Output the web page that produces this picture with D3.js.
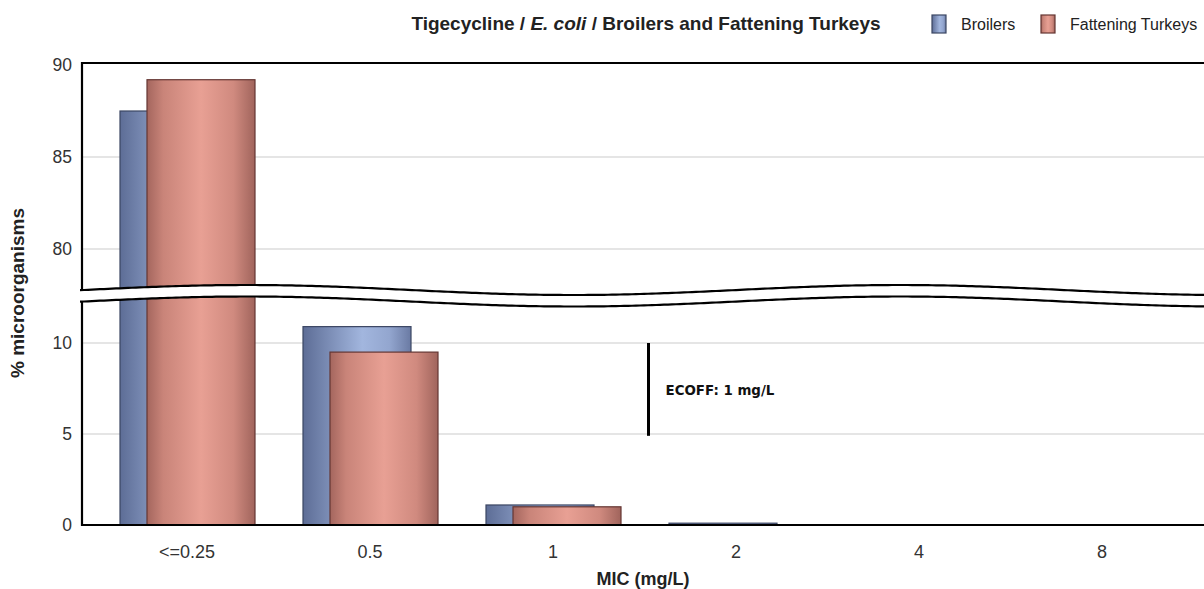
<!DOCTYPE html>
<html>
<head>
<meta charset="utf-8">
<script src="https://cdn.jsdelivr.net/npm/d3@7"></script>
<style>
  body { margin: 0; background: #fff; overflow: hidden; }
  svg { display: block; font-family: "Liberation Sans", Arial, sans-serif; }
</style>
</head>
<body>
<svg id="chart" width="1204" height="589"></svg>
<script>
// ── data ──
const categories = ["<=0.25", "0.5", "1", "2", "4", "8"];
const broilers = [87.5, 10.9, 1.1, 0.1, 0, 0];
const turkeys = [89.2, 9.5, 1.0, 0, 0, 0];
const upperTicks = [80, 85, 90];
const lowerTicks = [0, 5, 10];
const ecoffIndex = 2; // between "1" and "2"

const pLeft = 82, pRight = 1212, pTop = 63, pBase = 525;
const svg = d3.select("#chart");
const defs = svg.append("defs");

// scales
const x = d3.scaleBand().domain(categories).range([95.5, 95.5 + 183 * 6]);
const yUp = d3.scaleLinear().domain([76, 90]).range([65 + 14 * 18.4, 65]);
const yLo = d3.scaleLinear().domain([0, 13]).range([pBase, pBase - 13 * 18.2]);

// break wave (decoration)
const waveUp = (px) => 290 - 5 * Math.cos((2 * Math.PI * (px - 247)) / 653);
const waveLo = (px) => waveUp(px) + 11.5;
const xs = d3.range(pLeft - 2, pRight + 2, 4);

// clip paths for both panels
defs.append("clipPath").attr("id", "clipUp")
  .append("path")
  .attr("d", `M${pLeft},${pTop}L${pRight},${pTop}` +
    xs.slice().reverse().map((p) => `L${p},${waveUp(p)}`).join("") + "Z");
defs.append("clipPath").attr("id", "clipLo")
  .append("path")
  .attr("d", `M${pLeft},${pBase}L${pRight},${pBase}` +
    xs.slice().reverse().map((p) => `L${p},${waveLo(p)}`).join("") + "Z");

// bar gradients
function grad(id, stops) {
  const g = defs.append("linearGradient").attr("id", id)
    .attr("x1", "0%").attr("x2", "100%").attr("y1", "0%").attr("y2", "0%");
  stops.forEach(([o, c]) => g.append("stop").attr("offset", o).attr("stop-color", c));
}
grad("gBlue", [["0%", "#5d6d96"], ["55%", "#a2b6de"], ["80%", "#93a6cf"], ["100%", "#6a7aa3"]]);
grad("gRed", [["0%", "#a4665e"], ["15%", "#c98479"], ["50%", "#e8a094"], ["80%", "#d08a7f"], ["100%", "#a0645c"]]);

// gridlines
const grid = svg.append("g").attr("stroke", "#dcdcdc").attr("stroke-width", 1.5);
upperTicks.filter((t) => t < 90).forEach((t) =>
  grid.append("line").attr("x1", pLeft).attr("x2", pRight).attr("y1", yUp(t)).attr("y2", yUp(t)));
lowerTicks.filter((t) => t > 0).forEach((t) =>
  grid.append("line").attr("x1", pLeft).attr("x2", pRight).attr("y1", yLo(t)).attr("y2", yLo(t)));

// bars
const series = [
  { name: "Broilers", vals: broilers, fill: "url(#gBlue)", stroke: "#3b4663", dx: 24.5 },
  { name: "Fattening Turkeys", vals: turkeys, fill: "url(#gRed)", stroke: "#643632", dx: 51.5 },
];
const bw = 108;
["clipUp", "clipLo"].forEach((clip) => {
  const yS = clip === "clipUp" ? yUp : yLo;
  const floor = clip === "clipUp" ? 330 : pBase;
  const g = svg.append("g").attr("clip-path", `url(#${clip})`);
  series.forEach((s) => {
    g.selectAll(null)
      .data(s.vals.map((v, i) => ({ v, c: categories[i] })).filter((d) => d.v > 0))
      .enter()
      .append("rect")
      .attr("x", (d) => x(d.c) + s.dx)
      .attr("width", bw)
      .attr("y", (d) => Math.max(Math.min(yS(d.v), floor), 40))
      .attr("height", (d) => floor - Math.max(Math.min(yS(d.v), floor), 40))
      .attr("fill", s.fill)
      .attr("stroke", s.stroke)
      .attr("stroke-width", 1.2);
  });
});

// frame
const line = d3.line();
svg.append("path")
  .attr("d", `M${pLeft},${waveUp(pLeft)}L${pLeft},${pTop}L${pRight},${pTop}`)
  .attr("fill", "none").attr("stroke", "#000").attr("stroke-width", 2.2);
svg.append("path")
  .attr("d", `M${pLeft},${waveLo(pLeft)}L${pLeft},${pBase}L${pRight},${pBase}`)
  .attr("fill", "none").attr("stroke", "#000").attr("stroke-width", 2.2);
svg.append("path").attr("d", line(xs.map((p) => [p, waveUp(p)])))
  .attr("fill", "none").attr("stroke", "#000").attr("stroke-width", 2.2);
svg.append("path").attr("d", line(xs.map((p) => [p, waveLo(p)])))
  .attr("fill", "none").attr("stroke", "#000").attr("stroke-width", 2.2);

// y tick labels
const tickStyle = (sel) => sel.attr("text-anchor", "end").attr("font-size", 17.5)
  .attr("fill", "#333").attr("dominant-baseline", "central");
upperTicks.forEach((t) => svg.append("text").attr("x", 72).attr("y", yUp(t)).text(t).call(tickStyle));
lowerTicks.forEach((t) => svg.append("text").attr("x", 72).attr("y", yLo(t)).text(t).call(tickStyle));

// x tick labels
categories.forEach((c) =>
  svg.append("text").attr("x", x(c) + x.bandwidth() / 2).attr("y", 558)
    .attr("text-anchor", "middle").attr("font-size", 18).attr("fill", "#333").text(c));

// axis titles
svg.append("text").attr("x", 643).attr("y", 585).attr("text-anchor", "middle")
  .attr("font-size", 18).attr("font-weight", "bold").attr("fill", "#222").text("MIC (mg/L)");
svg.append("text").attr("transform", "translate(24,293) rotate(-90)")
  .attr("text-anchor", "middle").attr("font-size", 19).attr("font-weight", "bold")
  .attr("fill", "#222").text("% microorganisms");

// ECOFF marker
const ex = x(categories[ecoffIndex]) + x.bandwidth() + 4;
svg.append("line").attr("x1", ex).attr("x2", ex).attr("y1", yLo(10)).attr("y2", yLo(4.9))
  .attr("stroke", "#000").attr("stroke-width", 3);
svg.append("text").attr("x", ex + 17).attr("y", 395)
  .attr("font-family", "DejaVu Sans, Verdana, sans-serif").attr("font-weight", "bold")
  .attr("font-size", 13.4).attr("fill", "#111").text("ECOFF: 1 mg/L");

// title
const title = svg.append("text").attr("x", 646).attr("y", 30).attr("text-anchor", "middle")
  .attr("font-size", 19).attr("font-weight", "bold").attr("fill", "#222");
title.append("tspan").text("Tigecycline / ");
title.append("tspan").attr("font-style", "italic").text("E. coli");
title.append("tspan").text(" / Broilers and Fattening Turkeys");

// legend
const legX = [932, 1041];
series.forEach((s, i) => {
  svg.append("rect").attr("x", legX[i]).attr("y", 15).attr("width", 14).attr("height", 18)
    .attr("fill", s.fill).attr("stroke", s.stroke).attr("stroke-width", 1.2);
  svg.append("text").attr("x", legX[i] + 29).attr("y", 30).attr("font-size", 16)
    .attr("fill", "#222").text(s.name);
});
</script>
</body>
</html>
